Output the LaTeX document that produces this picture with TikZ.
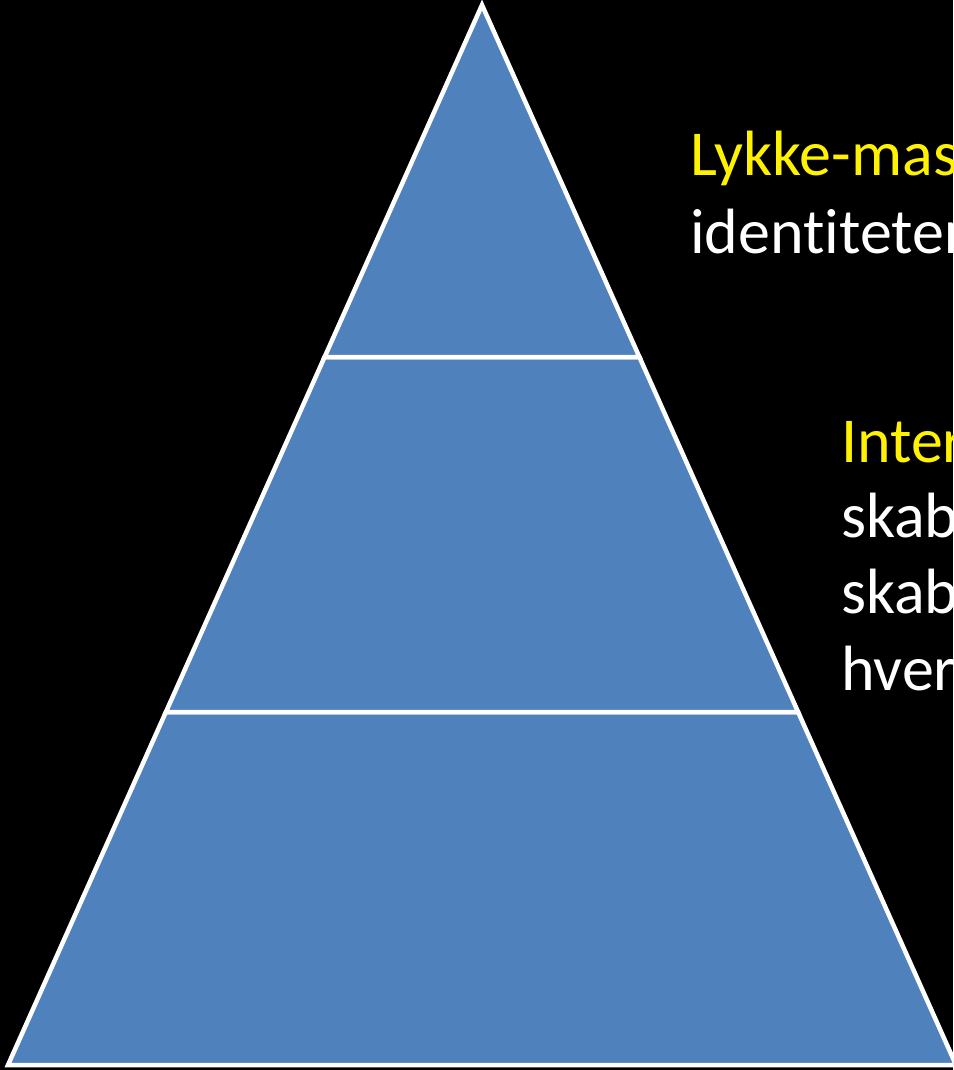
\documentclass[tikz,border=0pt]{standalone}
\usepackage{fontspec}
\setmainfont[Ligatures = NoCommon]{Carlito}
\definecolor{pyrblue}{RGB}{79,129,189}

\begin{document}
\begin{tikzpicture}[x = 1pt, y = -1pt,
    layer/.style = {fill = pyrblue, draw = white, line width = 4.5},
    word/.style = {anchor = base west, inner sep = 0, white,
      font = \fontsize{64}{76}\selectfont}]
    \fill [black] (0,0) rectangle (953,1070);
    \clip (0,0) rectangle (953,1070);
    \coordinate (T) at (482,5);
    \coordinate (L) at (8,1065);
    \coordinate (R) at (956,1065);
    \coordinate (A1) at (324.6,357);
    \coordinate (A2) at (639.4,357);
    \coordinate (B1) at (165.9,712);
    \coordinate (B2) at (798.1,712);
    \draw [layer] (B1) -- (L) -- (R) -- (B2) -- cycle;
    \draw [layer] (A1) -- (B1) -- (B2) -- (A2) -- cycle;
    \draw [layer] (T) -- (A1) -- (A2) -- cycle;
    \node [word, yellow] (lykke) at (690,175) {Lykke-mas};
    \node [word] (ident) at (690,253) {identiteter};
    \node [word, yellow] (inter) at (841,462) {Inter};
    \node [word] (skab1) at (841,537) {skab};
    \node [word] (skab2) at (841,613) {skab};
    \node [word] (hver) at (841,690) {hver};
\end{tikzpicture}
\end{document}
